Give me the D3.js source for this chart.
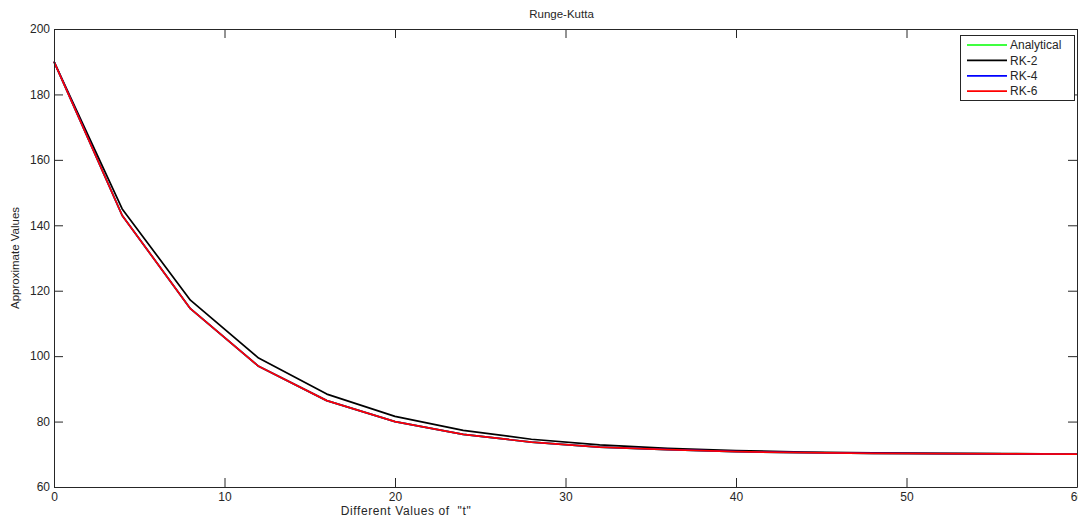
<!DOCTYPE html>
<html><head><meta charset="utf-8">
<script src="https://cdn.jsdelivr.net/npm/d3@7"></script>
<style>
html,body{margin:0;padding:0;background:#fff;}
svg{display:block;font-family:"Liberation Sans",Arial,sans-serif;}
</style></head>
<body>
<svg id="chart" width="1078" height="521"></svg>
<script>
// ---- data ----
const tFine = [0,4,8,12,16,20,24,28,32,36,40,44,48,52,56,60];
const analytical = [190,143.0,114.5,96.9,86.4,80.0,76.1,73.7,72.2,71.4,70.8,70.5,70.3,70.2,70.1,70.07];
const rk4 = [190,143.0,114.5,96.9,86.4,80.0,76.1,73.7,72.2,71.4,70.8,70.5,70.3,70.2,70.1,70.07];
const rk6 = [190,143.0,114.5,96.9,86.4,80.0,76.1,73.7,72.2,71.4,70.8,70.5,70.3,70.2,70.1,70.07];
const tRk2 = [0,4,8,12,16,20,24,28,32,36,40,44,48,52,56,58];
const rk2 = [190,145.0,117.1,99.4,88.4,81.6,77.3,74.6,72.9,71.8,71.1,70.7,70.45,70.3,70.2,70.15];
const seriesNames = ["Analytical","RK-2","RK-4","RK-6"];
const seriesColors = ["#00ff00","#000000","#0000ff","#ff0000"];
const xTicks = [0,10,20,30,40,50,60];
const yTicks = [60,80,100,120,140,160,180,200];
const titleText = "Runge-Kutta";
const xLabelText = "Different Values of  \"t\"";
const yLabelText = "Approximate Values";

// ---- layout ----
const svg = d3.select("#chart");
const L = 54, R = 1077, T = 29, B = 487;
const x = d3.scaleLinear().domain([0,60]).range([L,R]);
const y = d3.scaleLinear().domain([60,200]).range([B,T]);
const axisColor = "#262626";

// lines
const series = [
  {t:tFine, v:analytical},
  {t:tRk2, v:rk2},
  {t:tFine, v:rk4},
  {t:tFine, v:rk6}
];
const line = d3.line().x(d=>x(d[0])).y(d=>y(d[1]));
const g = svg.append("g");
series.forEach((s,i)=>{
  g.append("path")
   .datum(s.t.map((tt,j)=>[tt,s.v[j]]))
   .attr("d", line)
   .attr("fill","none")
   .attr("stroke", seriesColors[i])
   .attr("stroke-width",1.7)
   .attr("stroke-linejoin","round");
});

// axes (MATLAB style box, inward ticks)
const tickLen = 9;
const xb = svg.append("g").attr("transform",`translate(0,${B})`)
  .call(d3.axisBottom(x).tickValues(xTicks).tickSizeInner(-tickLen).tickSizeOuter(0).tickPadding(5).tickFormat(d3.format("d")));
const xt = svg.append("g").attr("transform",`translate(0,${T})`)
  .call(d3.axisTop(x).tickValues(xTicks).tickSizeInner(-tickLen).tickSizeOuter(0).tickFormat(""));
const yl = svg.append("g").attr("transform",`translate(${L},0)`)
  .call(d3.axisLeft(y).tickValues(yTicks).tickSizeInner(-tickLen).tickSizeOuter(0).tickPadding(4).tickFormat(d3.format("d")));
const yr = svg.append("g").attr("transform",`translate(${R},0)`)
  .call(d3.axisRight(y).tickValues(yTicks).tickSizeInner(-tickLen).tickSizeOuter(0).tickFormat(""));
[xb,xt,yl,yr].forEach(a=>{
  a.selectAll("path").attr("stroke",axisColor).attr("stroke-width",1);
  a.selectAll("line").attr("stroke",axisColor).attr("stroke-width",1);
  a.selectAll("text").attr("fill",axisColor).attr("font-size",12).attr("font-family","Liberation Sans, Arial, sans-serif");
});

// title and labels
svg.append("text").attr("x",(L+R)/2 - 4).attr("y",17.5).attr("text-anchor","middle")
  .attr("font-size",11.5).attr("fill",axisColor).text(titleText);
svg.append("text").attr("x",406).attr("y",515).attr("text-anchor","middle")
  .style("white-space","pre").attr("letter-spacing",0.6)
  .attr("font-size",12).attr("fill",axisColor).text(xLabelText);
svg.append("text").attr("transform",`translate(19,${(T+B)/2}) rotate(-90)`).attr("text-anchor","middle")
  .attr("font-size",11.5).attr("fill",axisColor).text(yLabelText);

// legend
const lg = svg.append("g");
lg.append("rect").attr("x",960.5).attr("y",35.5).attr("width",114).attr("height",65)
  .attr("fill","#fff").attr("stroke",axisColor).attr("stroke-width",1);
seriesNames.forEach((n,i)=>{
  const yy = 45 + i*15.4;
  lg.append("line").attr("x1",967).attr("x2",1007).attr("y1",yy).attr("y2",yy)
    .attr("stroke",seriesColors[i]).attr("stroke-width",1.7);
  lg.append("text").attr("x",1010).attr("y",yy).attr("dy","0.35em")
    .attr("font-size",12).attr("fill",axisColor).text(n);
});
</script>
</body></html>
